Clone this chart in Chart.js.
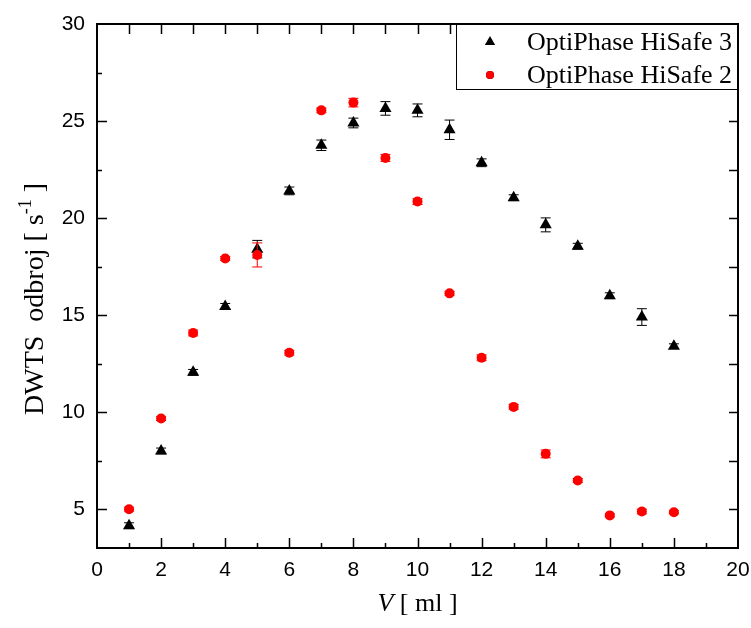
<!DOCTYPE html>
<html>
<head>
<meta charset="utf-8">
<script src="https://cdn.jsdelivr.net/npm/chart.js@4.4.0/dist/chart.umd.min.js"></script>
<style>
  html, body { margin: 0; padding: 0; background: #fff; }
</style>
</head>
<body>
<canvas id="chart" width="751" height="628"></canvas>
<script>
// volume of sample [ml]
const volumes = [1, 2, 3, 4, 5, 6, 7, 8, 9, 10, 11, 12, 13, 14, 15, 16, 17, 18];
// OptiPhase HiSafe 3 - count rate and error
const hiSafe3 = [4.15, 8.0, 12.05, 15.45, 18.4, 21.4, 23.75, 24.9, 25.65, 25.55, 24.55, 22.85, 21.05, 19.65, 18.55, 16.0, 14.9, 13.4];
const hiSafe3Err = [0.15, 0.15, 0.15, 0.15, 0.45, 0.2, 0.27, 0.25, 0.35, 0.33, 0.5, 0.2, 0.15, 0.36, 0.15, 0.15, 0.43, 0.12];
// OptiPhase HiSafe 2 - count rate and error
const hiSafe2 = [5.0, 9.67, 14.08, 17.92, 18.1, 13.06, 25.55, 25.95, 23.1, 20.85, 16.12, 12.8, 10.27, 7.85, 6.48, 4.68, 4.88, 4.84];
const hiSafe2Err = [0.1, 0.1, 0.15, 0.1, 0.62, 0.12, 0.12, 0.22, 0.18, 0.15, 0.1, 0.15, 0.12, 0.2, 0.1, 0.08, 0.12, 0.08];

const seriesNames = ['OptiPhase HiSafe 3', 'OptiPhase HiSafe 2'];
const xTicks = [0, 2, 4, 6, 8, 10, 12, 14, 16, 18, 20];
const yTicks = [5, 10, 15, 20, 25, 30];

const serif = '"Liberation Serif", "DejaVu Serif", serif';
const sans = '"Liberation Sans", Arial, sans-serif';

function toPoints(ys) {
    return volumes.map((x, i) => ({ x: x, y: ys[i] }));
}

// error bars, axes frame with inside ticks, legend box and axis titles
const decorations = {
    id: 'decorations',
    afterDatasetDraw(chart, args) {
        const errs = [hiSafe3Err, hiSafe2Err][args.index];
        const ds = chart.data.datasets[args.index];
        const ys = chart.scales.y;
        const ctx = chart.ctx;
        ctx.save();
        ctx.strokeStyle = ds.borderColor;
        ctx.lineWidth = 1;
        args.meta.data.forEach((pt, i) => {
            const v = ds.data[i].y;
            const top = ys.getPixelForValue(v + errs[i]);
            const bot = ys.getPixelForValue(v - errs[i]);
            ctx.beginPath();
            ctx.moveTo(pt.x, top); ctx.lineTo(pt.x, bot);
            ctx.moveTo(pt.x - 5, top); ctx.lineTo(pt.x + 5, top);
            ctx.moveTo(pt.x - 5, bot); ctx.lineTo(pt.x + 5, bot);
            ctx.stroke();
        });
        ctx.restore();
    },
    afterDraw(chart) {
        const ctx = chart.ctx;
        const a = chart.chartArea;
        const xs = chart.scales.x, ys = chart.scales.y;
        ctx.save();
        ctx.strokeStyle = '#000';
        ctx.lineWidth = 2;
        ctx.strokeRect(a.left, a.top, a.right - a.left, a.bottom - a.top);

        ctx.lineWidth = 1.5;
        ctx.beginPath();
        for (let v = 1; v < 20; v++) {
            const px = Math.round(xs.getPixelForValue(v)) + 0.5;
            const len = v % 2 === 0 ? 10 : 5;
            ctx.moveTo(px, a.bottom); ctx.lineTo(px, a.bottom - len);
            ctx.moveTo(px, a.top); ctx.lineTo(px, a.top + 10);
        }
        for (let v = 5; v < 30; v += 2.5) {
            const py = Math.round(ys.getPixelForValue(v)) + 0.5;
            const len = v % 5 === 0 ? 10 : 5;
            ctx.moveTo(a.left, py); ctx.lineTo(a.left + len, py);
            ctx.moveTo(a.right, py); ctx.lineTo(a.right - 9, py);
        }
        ctx.stroke();

        // legend
        const lw = 282, lh = 65;
        const lx = a.right - lw, ly = a.top;
        ctx.fillStyle = '#fff';
        ctx.fillRect(lx, ly, lw, lh);
        ctx.lineWidth = 1;
        ctx.strokeRect(lx + 0.5, ly + 0.5, lw - 1, lh);
        ctx.font = '26px ' + serif;
        ctx.textBaseline = 'middle';
        ctx.textAlign = 'left';
        chart.data.datasets.forEach((ds, i) => {
            const ry = ly + 18 + i * 33;
            Chart.helpers.drawPoint(ctx, {
                pointStyle: ds.pointStyle, radius: ds.pointRadius - 1, rotation: 0, borderWidth: 0
            }, lx + 34, ry);
            ctx.fillStyle = ds.backgroundColor;
            ctx.fill();
            ctx.fillStyle = '#000';
            ctx.fillText(ds.label, lx + 71, ry + 1);
        });

        // y title
        ctx.save();
        ctx.translate(33, 299);
        ctx.rotate(-Math.PI / 2);
        const main = 'DWTS  odbroj [ s';
        const sup = '-1';
        const tail = ' ]';
        ctx.font = '28px ' + serif;
        const w1 = ctx.measureText(main).width;
        const w3 = ctx.measureText(tail).width;
        ctx.font = '18px ' + serif;
        const w2 = ctx.measureText(sup).width;
        let sx = -(w1 + w2 + w3) / 2;
        ctx.textBaseline = 'alphabetic';
        ctx.font = '28px ' + serif;
        ctx.fillText(main, sx, 10);
        ctx.font = '18px ' + serif;
        ctx.fillText(sup, sx + w1, -2);
        ctx.font = '28px ' + serif;
        ctx.fillText(tail, sx + w1 + w2, 10);
        ctx.restore();

        // x title
        ctx.textBaseline = 'alphabetic';
        ctx.font = 'italic 26px ' + serif;
        const vw = ctx.measureText('V').width;
        ctx.font = '26px ' + serif;
        const rest = ' [ ml ]';
        const rw = ctx.measureText(rest).width;
        const cx = (a.left + a.right) / 2 - (vw + rw) / 2;
        ctx.font = 'italic 26px ' + serif;
        ctx.fillText('V', cx, 611);
        ctx.font = '26px ' + serif;
        ctx.fillText(rest, cx + vw, 611);
        ctx.restore();
    }
};

const ctx = document.getElementById('chart').getContext('2d');
new Chart(ctx, {
    type: 'scatter',
    data: {
        datasets: [{
            label: seriesNames[0],
            data: toPoints(hiSafe3),
            pointStyle: 'triangle',
            pointRadius: 7,
            pointHoverRadius: 7,
            backgroundColor: '#000000',
            borderColor: '#000000',
            borderWidth: 0,
            order: 1
        }, {
            label: seriesNames[1],
            data: toPoints(hiSafe2),
            pointStyle: 'circle',
            pointRadius: 5,
            pointHoverRadius: 5,
            backgroundColor: '#ff0000',
            borderColor: '#ff0000',
            borderWidth: 0,
            order: 0
        }]
    },
    options: {
        responsive: false,
        animation: false,
        devicePixelRatio: 1,
        layout: { padding: { top: 24, right: 13, left: 0, bottom: 0 } },
        plugins: { legend: { display: false }, tooltip: { enabled: false } },
        scales: {
            x: {
                type: 'linear',
                min: 0,
                max: 20,
                afterBuildTicks: s => { s.ticks = xTicks.map(v => ({ value: v })); },
                afterFit: s => { s.height = 80; s.paddingLeft = 0; s.paddingRight = 0; },
                grid: { display: false, drawTicks: false },
                border: { display: false },
                ticks: { color: '#000', padding: 10, font: { family: sans, size: 21 } }
            },
            y: {
                type: 'linear',
                min: 3,
                max: 30,
                afterBuildTicks: s => { s.ticks = yTicks.map(v => ({ value: v })); },
                afterFit: s => { s.width = 97; s.paddingTop = 0; s.paddingBottom = 0; },
                grid: { display: false, drawTicks: false },
                border: { display: false },
                ticks: { color: '#000', padding: 12, font: { family: sans, size: 21 } }
            }
        }
    },
    plugins: [decorations]
});
</script>
</body>
</html>
